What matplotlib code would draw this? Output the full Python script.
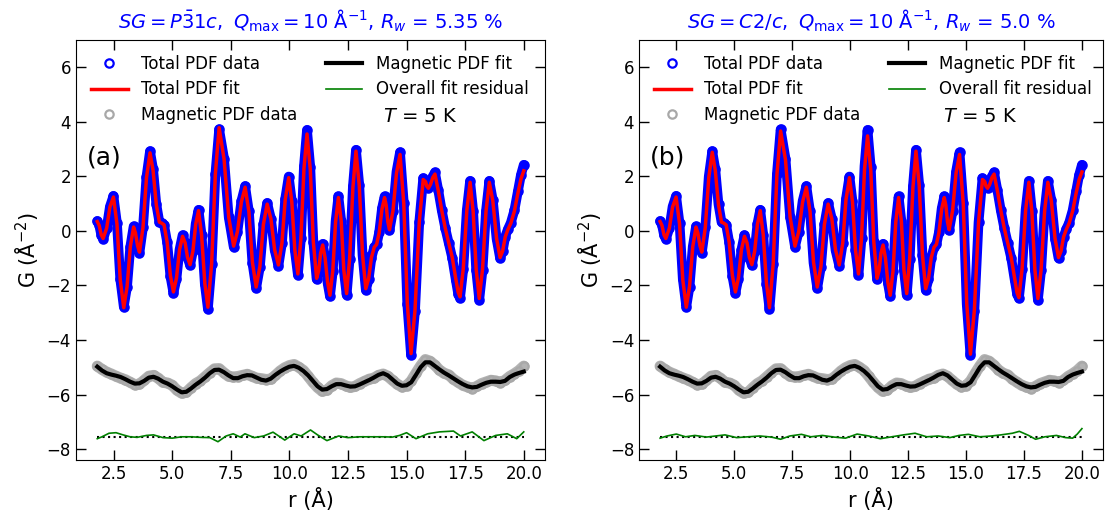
import numpy as np
import matplotlib
matplotlib.use("Agg")
import matplotlib.pyplot as plt

# total PDF, r in Angstrom (same data in both panels)
r_tot = [1.80, 1.88, 1.97, 2.05, 2.20, 2.34, 2.49, 2.64, 2.78, 2.93, 3.07, 3.21, 3.35, 3.43, 3.52, 3.60,
         3.75, 3.90, 4.05, 4.18, 4.32, 4.45, 4.55, 4.65, 4.78, 4.92, 5.05, 5.18, 5.31, 5.44, 5.55, 5.65,
         5.76, 5.88, 6.00, 6.12, 6.25, 6.39, 6.52, 6.68, 6.84, 7.00, 7.21, 7.41, 7.62, 7.78, 7.95, 8.11,
         8.27, 8.42, 8.58, 8.74, 8.89, 9.05, 9.21, 9.37, 9.53, 9.68, 9.82, 9.97, 10.10, 10.23, 10.36,
         10.49, 10.62, 10.75, 10.89, 11.02, 11.16, 11.25, 11.33, 11.42, 11.52, 11.63, 11.73, 11.85, 11.97,
         12.09, 12.21, 12.32, 12.44, 12.57, 12.71, 12.84, 12.98, 13.12, 13.26, 13.38, 13.50, 13.62, 13.72,
         13.83, 13.95, 14.06, 14.13, 14.20, 14.27, 14.42, 14.57, 14.72, 14.88, 15.03, 15.19, 15.36, 15.54,
         15.71, 15.81, 15.86, 15.93, 16.02, 16.12, 16.21, 16.35, 16.50, 16.65, 16.80, 16.95, 17.10, 17.20,
         17.28, 17.42, 17.57, 17.71, 17.84, 17.97, 18.10, 18.24, 18.39, 18.53, 18.68, 18.84, 18.99, 19.10,
         19.21, 19.32, 19.45, 19.60, 19.75, 19.88, 20.00]
G_tot = [0.36, 0.22, -0.15, -0.30, 0.10, 0.89, 1.28, 0.27, -1.77, -2.78, -2.05, -0.58, 0.16, -0.08, -0.56, -0.80,
         0.13, 1.99, 2.92, 2.27, 0.97, 0.32, 0.28, 0.22, -0.41, -1.66, -2.28, -1.75, -0.69, -0.16, -0.43, -0.98,
         -1.26, -0.75, 0.26, 0.77, -0.14, -1.95, -2.86, -1.22, 2.08, 3.72, 2.65, 0.50, -0.58, -0.03, 1.09, 1.64,
         0.71, -1.17, -2.10, -1.32, 0.24, 1.02, 0.45, -0.71, -1.28, -0.46, 1.17, 1.99, 1.09, -0.71, -1.61,
         -0.28, 2.37, 3.70, 2.33, -0.40, -1.77, -1.45, -0.80, -0.48, -0.96, -1.92, -2.40, -1.49, 0.35,
         1.26, 0.36, -1.45, -2.35, -1.02, 1.64, 2.97, 1.69, -0.89, -2.17, -1.78, -0.99, -0.60, -0.50,
         -0.06, 0.82, 1.26, 0.95, 0.33, 0.02, 0.74, 2.17, 2.88, 1.02, -2.69, -4.55, -2.93, 0.31,
         1.93, 1.84, 1.66, 1.57, 1.71, 2.00, 2.14, 1.50, 0.75, 0.10, -0.45, -1.00, -1.80, -2.30,
         -2.47, -1.40, 0.76, 1.83, 0.74, -1.44, -2.53, -1.44, 0.74, 1.83, 1.12, -0.29, -1.00, -0.74,
         -0.21, 0.05, 0.30, 0.75, 1.45, 2.05, 2.42]
fit_a = [0.34, 0.20, -0.15, -0.28, 0.10, 0.88, 1.24, 0.25, -1.80, -2.82, -2.05, -0.58, 0.14, -0.08, -0.55, -0.78,
         0.12, 1.95, 2.86, 2.22, 0.95, 0.32, 0.28, 0.22, -0.41, -1.64, -2.24, -1.73, -0.69, -0.20, -0.44, -0.97,
         -1.24, -0.75, 0.24, 0.74, -0.14, -1.93, -2.80, -1.20, 2.10, 3.78, 2.63, 0.50, -0.56, -0.03, 1.06, 1.60,
         0.70, -1.15, -2.06, -1.30, 0.24, 0.98, 0.44, -0.70, -1.25, -0.45, 1.14, 1.95, 1.07, -0.70, -1.58,
         -0.28, 2.28, 3.55, 2.25, -0.40, -1.74, -1.45, -0.82, -0.52, -0.98, -1.90, -2.36, -1.47, 0.33,
         1.22, 0.35, -1.43, -2.30, -1.00, 1.60, 2.92, 1.66, -0.88, -2.12, -1.75, -0.98, -0.60, -0.50,
         -0.07, 0.80, 1.22, 0.93, 0.33, 0.04, 0.74, 2.12, 2.80, 1.00, -2.66, -4.50, -2.90, 0.31,
         1.88, 1.80, 1.64, 1.56, 1.70, 1.96, 2.08, 1.48, 0.75, 0.10, -0.45, -0.98, -1.76, -2.25,
         -2.42, -1.38, 0.74, 1.78, 0.72, -1.42, -2.48, -1.42, 0.72, 1.78, 1.10, -0.28, -0.98, -0.74,
         -0.22, 0.04, 0.28, 0.72, 1.38, 1.90, 2.20]
fit_b = [0.34, 0.20, -0.15, -0.28, 0.10, 0.88, 1.24, 0.25, -1.80, -2.80, -2.04, -0.58, 0.14, -0.08, -0.55, -0.78,
         0.12, 1.95, 2.88, 2.22, 0.95, 0.32, 0.28, 0.22, -0.41, -1.64, -2.24, -1.73, -0.69, -0.20, -0.44, -0.97,
         -1.24, -0.75, 0.24, 0.74, -0.14, -1.93, -2.82, -1.20, 2.05, 3.66, 2.60, 0.50, -0.56, -0.03, 1.06, 1.60,
         0.70, -1.15, -2.06, -1.30, 0.24, 0.98, 0.44, -0.70, -1.25, -0.45, 1.14, 1.95, 1.07, -0.70, -1.58,
         -0.28, 2.25, 3.48, 2.22, -0.40, -1.74, -1.45, -0.82, -0.52, -0.98, -1.90, -2.36, -1.47, 0.33,
         1.22, 0.35, -1.43, -2.30, -1.00, 1.60, 2.92, 1.66, -0.88, -2.12, -1.75, -0.98, -0.60, -0.50,
         -0.07, 0.80, 1.22, 0.93, 0.33, 0.04, 0.74, 2.12, 2.80, 1.00, -2.66, -4.52, -2.90, 0.31,
         1.88, 1.80, 1.64, 1.56, 1.70, 1.96, 2.08, 1.48, 0.75, 0.10, -0.45, -0.98, -1.76, -2.27,
         -2.45, -1.38, 0.74, 1.78, 0.72, -1.42, -2.48, -1.42, 0.72, 1.78, 1.10, -0.28, -0.98, -0.74,
         -0.22, 0.04, 0.28, 0.72, 1.38, 1.88, 2.16]

# magnetic PDF (offset), sampled every 0.2 A from 1.8 to 20.0
mag_fit = [-4.98, -5.12, -5.22, -5.27, -5.31, -5.36, -5.44, -5.53, -5.60, -5.59, -5.50, -5.38, -5.35, -5.42,
           -5.53, -5.60, -5.70, -5.82, -5.92, -5.90, -5.78, -5.64, -5.52, -5.38, -5.22, -5.10, -5.09, -5.18,
           -5.30, -5.40, -5.40, -5.33, -5.29, -5.30, -5.38, -5.46, -5.49, -5.42, -5.28, -5.16, -5.06, -4.98,
           -4.95, -5.02, -5.14, -5.30, -5.50, -5.70, -5.82, -5.80, -5.70, -5.62, -5.62, -5.67, -5.71, -5.70,
           -5.63, -5.55, -5.47, -5.38, -5.28, -5.22, -5.30, -5.45, -5.60, -5.68, -5.66, -5.55, -5.28, -5.00,
           -4.82, -4.82, -4.95, -5.08, -5.20, -5.30, -5.41, -5.52, -5.62, -5.70, -5.74, -5.72, -5.64, -5.57,
           -5.53, -5.53, -5.54, -5.50, -5.36, -5.27, -5.21, -5.16]
mag_data = [-4.96, -5.08, -5.18, -5.25, -5.33, -5.40, -5.46, -5.55, -5.64, -5.62, -5.48, -5.33, -5.30, -5.40,
            -5.55, -5.58, -5.66, -5.84, -5.95, -5.92, -5.75, -5.60, -5.50, -5.35, -5.20, -5.06, -5.05, -5.20,
            -5.33, -5.36, -5.34, -5.30, -5.26, -5.33, -5.40, -5.42, -5.45, -5.44, -5.30, -5.14, -5.02, -4.94,
            -4.90, -5.00, -5.12, -5.33, -5.55, -5.74, -5.88, -5.84, -5.68, -5.58, -5.60, -5.68, -5.74, -5.70,
            -5.60, -5.52, -5.44, -5.40, -5.30, -5.25, -5.33, -5.48, -5.62, -5.72, -5.68, -5.50, -5.22, -4.95,
            -4.72, -4.78, -4.92, -5.10, -5.22, -5.28, -5.44, -5.55, -5.66, -5.72, -5.78, -5.70, -5.60, -5.54,
            -5.48, -5.50, -5.56, -5.48, -5.34, -5.24, -5.12, -4.96]

# fit residuals (offset)
res_r_a = [1.8, 2.0, 2.3, 2.6, 2.9, 3.2, 3.5, 3.9, 4.2, 4.6, 5.0, 5.4, 5.8, 6.2, 6.6, 6.95, 7.3, 7.6, 7.9,
           8.1, 8.5, 8.9, 9.3, 9.8, 10.2, 10.5, 10.9, 11.2, 11.6, 12.1, 12.5, 13.0, 13.5, 14.0, 14.4, 14.7,
           15.0, 15.4, 15.9, 16.4, 17.0, 17.3, 17.8, 18.3, 18.8, 19.3, 19.7, 20.0]
res_a = [-7.62, -7.55, -7.42, -7.40, -7.48, -7.55, -7.57, -7.50, -7.48, -7.58, -7.60, -7.55, -7.55, -7.57,
         -7.58, -7.73, -7.52, -7.44, -7.56, -7.44, -7.58, -7.52, -7.38, -7.67, -7.44, -7.52, -7.30, -7.48,
         -7.69, -7.52, -7.58, -7.55, -7.55, -7.55, -7.56, -7.50, -7.40, -7.62, -7.44, -7.37, -7.34, -7.52,
         -7.37, -7.69, -7.50, -7.44, -7.62, -7.37]
res_r_b = [1.8, 2.1, 2.5, 2.9, 3.3, 3.8, 4.2, 4.6, 5.1, 5.6, 6.1, 6.6, 7.0, 7.4, 7.9, 8.3, 8.8, 9.3, 9.8,
           10.3, 10.8, 11.3, 11.8, 12.3, 12.8, 13.3, 13.8, 14.3, 14.7, 15.1, 15.6, 16.1, 16.5, 17.0, 17.3,
           17.7, 18.0, 18.4, 18.9, 19.3, 19.6, 19.8, 20.0]
res_b = [-7.60, -7.52, -7.45, -7.55, -7.50, -7.56, -7.52, -7.48, -7.58, -7.55, -7.52, -7.56, -7.64, -7.52,
         -7.46, -7.55, -7.50, -7.56, -7.60, -7.45, -7.52, -7.62, -7.55, -7.48, -7.42, -7.55, -7.52, -7.58,
         -7.50, -7.46, -7.55, -7.52, -7.48, -7.42, -7.35, -7.50, -7.64, -7.55, -7.50, -7.58, -7.60, -7.45,
         -7.25]
res_base = -7.55

r_mag = 1.8 + 0.2 * np.arange(len(mag_fit))

titles = [r'$SG = P\bar{3}1c,\ Q_{\rm max} = 10$ Å$^{-1}$, $R_w$ = 5.35 %',
          r'$SG = C2/c,\ Q_{\rm max} = 10$ Å$^{-1}$, $R_w$ = 5.0 %']
tags = ['(a)', '(b)']

fig = plt.figure(figsize=(11.09, 5.18), dpi=100)
ax1 = fig.add_axes([0.0685, 0.112, 0.4230, 0.811])
ax2 = fig.add_axes([0.5762, 0.112, 0.4184, 0.811])

panels = [(ax1, fit_a, res_r_a, res_a), (ax2, fit_b, res_r_b, res_b)]
for i, (ax, fit, rr, res) in enumerate(panels):
    # thick band under the open circles, like the dense data points
    ax.plot(r_tot, G_tot, '-', color='blue', lw=7, solid_joinstyle='round', solid_capstyle='round', zorder=1)
    ax.plot(r_tot, G_tot, 'o', mfc='none', mec='blue', ms=6, mew=1.6, label='Total PDF data', zorder=2)
    ax.plot(r_tot, fit, '-', color='red', lw=2.5, label='Total PDF fit', zorder=3)
    ax.plot(r_mag, mag_data, '-', color='#b3b3b3', lw=8, solid_capstyle='round', zorder=1)
    ax.plot(r_mag, mag_data, 'o', mfc='none', mec='#a8a8a8', ms=6, mew=1.6, label='Magnetic PDF data', zorder=2)
    ax.plot(r_mag, mag_fit, '-', color='black', lw=3, label='Magnetic PDF fit', zorder=3)
    ax.plot(rr, res, '-', color='green', lw=1.2, label='Overall fit residual', zorder=3)
    ax.plot([r_tot[0], r_tot[-1]], [res_base, res_base], ':', color='black', lw=1.5, zorder=2)

    ax.set_xlim(0.89, 20.91)
    ax.set_ylim(-8.4, 7.0)
    ax.set_xticks([2.5, 5.0, 7.5, 10.0, 12.5, 15.0, 17.5, 20.0])
    ax.set_yticks([-8, -6, -4, -2, 0, 2, 4, 6])
    ax.tick_params(direction='in', top=True, right=True, length=7, width=1, labelsize=12)
    ax.set_xlabel('r (Å)', fontsize=15)
    ax.set_ylabel('G (Å$^{-2}$)', fontsize=15)
    ax.set_title(titles[i], color='blue', fontsize=14, pad=8)
    ax.text(1.35, 2.68, tags[i], fontsize=18, ha='left', va='center')
    ax.text(15.6, 4.2, r'$T$ = 5 K', fontsize=14, ha='center', va='center')
    ax.legend(loc='upper left', ncol=2, frameon=False, fontsize=12, handlelength=2.2,
              handletextpad=0.8, columnspacing=1.7, labelspacing=0.45)

fig.savefig('out.png', dpi=100)
